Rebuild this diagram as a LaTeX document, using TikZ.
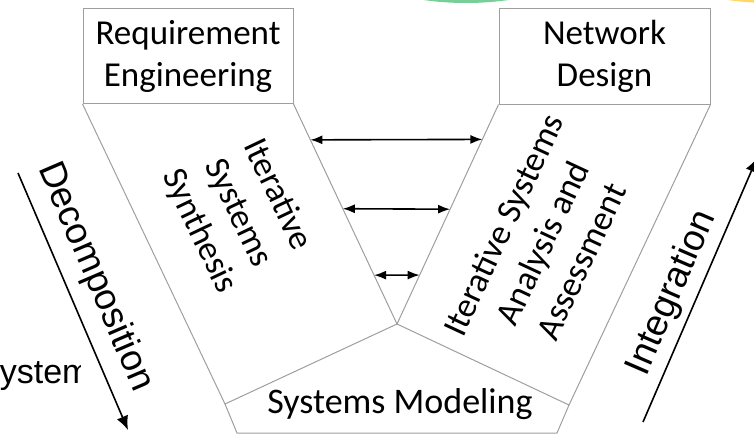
\documentclass[tikz,border=0pt]{standalone}
\usepackage{fontspec}
\setmainfont{Carlito}
\newfontfamily\arialf{Liberation Sans}
\usetikzlibrary{arrows.meta,calc}
\definecolor{mint}{RGB}{120,206,152}
\definecolor{sand}{RGB}{255,215,105}
\begin{document}
\begin{tikzpicture}
        [x=1pt,y=-1pt,
        edge/.style={draw=black!38, line width=1pt},
        phase/.style={edge, minimum width=210pt, minimum height=95pt, inner sep=0pt, align=center, font=\fontsize{35}{42}\selectfont},
        block/.style={align=center, inner sep=0pt, font=\fontsize{35}{43}\selectfont},
        link/.style={line width=1.6pt, {Latex[length=12pt,width=9pt]}-{Latex[length=12pt,width=9pt]}},
        flow/.style={line width=1.6pt, -{Latex[length=14pt,width=12pt]}},
        side/.style={inner sep=0pt, font=\arialf\fontsize{37}{44}\selectfont},
        ]
        \useasboundingbox (0,0) rectangle (754,434);
        \clip (0,0) rectangle (754,434);
        \fill[mint] (466,-297) circle (300);
        \fill[sand] (770,-297) circle (300);
        \node[phase] (req) at (188,56) {Requirement\\Engineering};
        \node[phase, minimum width=211pt, minimum height=96pt] (net) at (604.5,56) {Network\\Design};
        \coordinate (tip) at (397,324);
        \coordinate (ml) at (225,404);
        \coordinate (mr) at (569,405);
        \coordinate (bl) at (237,433);
        \coordinate (br) at (557,433);
        \draw[edge] (req.south west) -- (ml) -- (tip) -- (req.south east);
        \draw[edge] (net.south east) -- (mr) -- (tip) -- (net.south west);
        \draw[edge] (ml) -- (bl) -- (br) -- (mr);
        \coordinate (syn1) at ($(req.south east)!0.163!(tip)$);
        \coordinate (syn2) at ($(req.south east)!0.476!(tip)$);
        \coordinate (syn3) at ($(req.south east)!0.778!(tip)$);
        \coordinate (ana1) at ($(net.south west)!0.159!(tip)$);
        \coordinate (ana2) at ($(net.south west)!0.477!(tip)$);
        \coordinate (ana3) at ($(net.south west)!0.777!(tip)$);
        \draw[link] (syn1) -- (ana1);
        \draw[link] (syn2) -- (ana2);
        \draw[link] (syn3) -- (ana3);
        \node[block, rotate=-64.5] (synth) at (238,213) {Iterative\\Systems\\Synthesis};
        \node[block, rotate=65] (assess) at (542,243) {Iterative Systems\\Analysis and\\Assessment};
        \node[inner sep=0pt, anchor=base, font=\fontsize{36}{43}\selectfont] (model) at (400,413) {Systems Modeling};
        \coordinate (dtop) at (18,173);
        \coordinate (dbot) at (128,430);
        \draw[flow] (dtop) -- (dbot);
        \node[side, rotate=-66.8] (decomp) at (95,277) {Decomposition};
        \coordinate (ibot) at (643,422);
        \coordinate (itop) at (757,158);
        \draw[flow] (ibot) -- (itop);
        \node[side, rotate=66.6] (integ) at (672,293) {Integration};
        \begin{scope}
          \clip (0,340) rectangle (80,400);
          \node[side, anchor=base west, font=\arialf\fontsize{34}{40}\selectfont] (sys) at (-23,383) {System};
        \end{scope}
        \end{tikzpicture}
\end{document}
